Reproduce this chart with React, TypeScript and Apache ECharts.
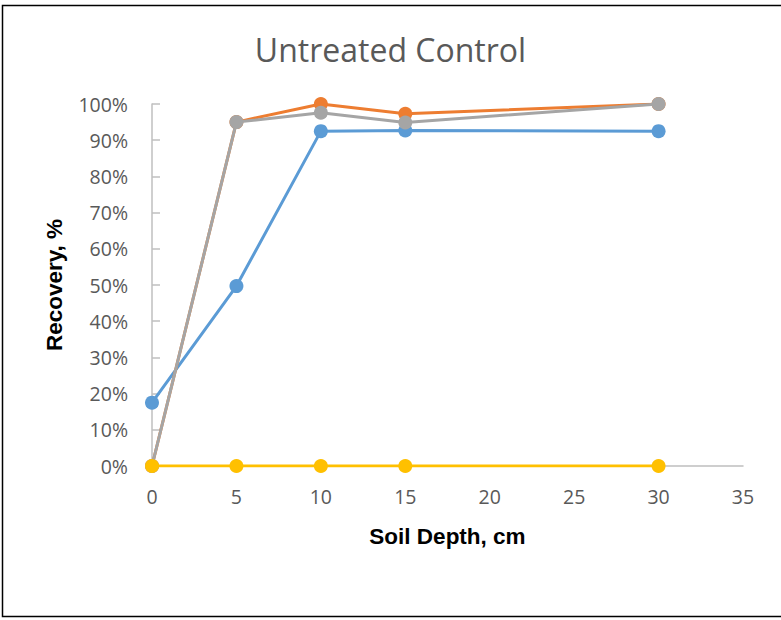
import React, { useEffect, useRef } from "react";
import * as echarts from "echarts";

const depths = [0, 5, 10, 15, 30];
const seriesBlue = [17.5, 49.7, 92.5, 92.7, 92.5];
const seriesOrange = [0, 95, 100, 97.3, 100];
const seriesGray = [0, 95, 97.6, 94.9, 100];
const seriesYellow = [0, 0, 0, 0, 0];

const colors = ["#5b9bd5", "#ed7d31", "#a5a5a5", "#ffc000"];
const names = ["Series1", "Series2", "Series3", "Series4"];
const allSeries = [seriesBlue, seriesOrange, seriesGray, seriesYellow];

export default function App() {
  const ref = useRef<HTMLDivElement>(null);
  useEffect(() => {
    if (!ref.current) return;
    const chart = echarts.init(ref.current, null, { renderer: "svg" });
    chart.setOption({
      animation: false,
      backgroundColor: "#ffffff",
      title: {
        text: "Untreated Control",
        left: "center",
        top: 28,
        textStyle: {
          fontFamily: "Open Sans",
          fontSize: 32,
          fontWeight: "normal",
          color: "#595959",
        },
      },
      graphic: [
        {
          type: "rect",
          shape: { x: 2.5, y: 5.5, width: 790, height: 611 },
          style: { fill: "none", stroke: "#000000", lineWidth: 1.5 },
          silent: true,
        },
      ],
      grid: { left: 152, right: 38, top: 104, bottom: 154, containLabel: false },
      xAxis: {
        type: "value",
        min: 0,
        max: 35,
        interval: 5,
        name: "Soil Depth, cm",
        nameLocation: "middle",
        nameGap: 59,
        nameTextStyle: {
          fontFamily: "Liberation Sans",
          fontWeight: "bold",
          fontSize: 22.5,
          color: "#000000",
        },
        axisLine: { show: true, lineStyle: { color: "#bfbfbf", width: 1.5 } },
        axisTick: { show: false },
        splitLine: { show: false },
        axisLabel: {
          fontFamily: "Open Sans",
          fontSize: 19.5,
          color: "#595959",
          margin: 20,
        },
      },
      yAxis: {
        type: "value",
        min: 0,
        max: 100,
        interval: 10,
        name: "Recovery, %",
        nameLocation: "middle",
        nameGap: 86,
        nameTextStyle: {
          fontFamily: "Liberation Sans",
          fontWeight: "bold",
          fontSize: 22.5,
          color: "#000000",
        },
        axisLine: { show: true, lineStyle: { color: "#bfbfbf", width: 1.5 } },
        axisTick: {
          show: true,
          inside: true,
          length: 8,
          lineStyle: { color: "#bfbfbf", width: 1.5 },
        },
        splitLine: { show: false },
        axisLabel: {
          fontFamily: "Open Sans",
          fontSize: 19.5,
          color: "#595959",
          margin: 24,
          formatter: (v: number) => `${v}%`,
        },
      },
      series: allSeries.map((vals, i) => ({
        name: names[i],
        type: "line",
        data: depths.map((d, j) => [d, vals[j]]),
        symbol: "circle",
        symbolSize: 14,
        itemStyle: { color: colors[i] },
        lineStyle: { color: colors[i], width: 3 },
        z: 2 + i,
      })),
    });
    return () => chart.dispose();
  }, []);
  return (
    <div
      ref={ref}
      style={{ position: "absolute", left: 0, top: 0, width: 781, height: 620 }}
    />
  );
}
